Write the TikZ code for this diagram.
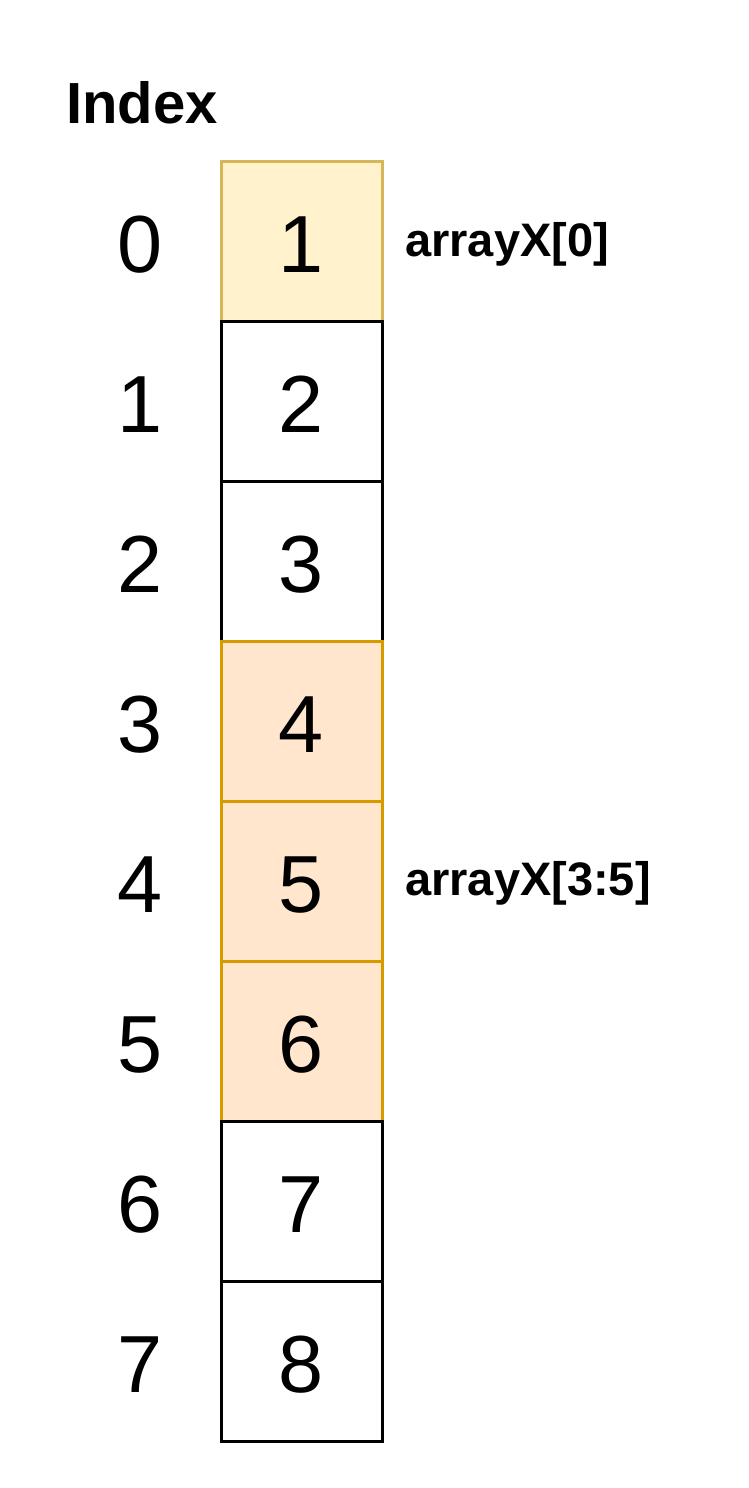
\documentclass[tikz,border=0pt]{standalone}
\usepackage{fontspec}
\setmainfont{Liberation Sans}
\usetikzlibrary{positioning}
\definecolor{yellowfill}{HTML}{FFF2CC}
\definecolor{yellowline}{HTML}{D6B656}
\definecolor{orangefill}{HTML}{FFE6CC}
\definecolor{orangeline}{HTML}{D79B00}
\tikzset{
  cell/.style={rectangle,draw,line width=3pt,outer sep=0pt,inner sep=0pt,
    minimum width=161pt,minimum height=160pt,text height=63pt,text depth=0pt,
    font=\fontsize{81}{81}\selectfont},
  firstcell/.style={cell,fill=yellowfill,draw=yellowline},
  slicecell/.style={cell,fill=orangefill,draw=orangeline},
  idx/.style={inner sep=0pt,anchor=center,text height=63pt,text depth=0pt,
    font=\fontsize{81}{81}\selectfont},
  tag/.style={inner sep=0pt,anchor=base west,font=\bfseries\fontsize{47}{47}\selectfont}
}
\begin{document}
\begin{tikzpicture}[x=1pt,y=-1pt]
  \useasboundingbox (0,0) rectangle (748,1488);
  \node[inner sep=0pt,anchor=base west,font=\bfseries\fontsize{58}{58}\selectfont] (title) at (66,123) {Index};
  % the array cells
  \node[firstcell] (c0) at (301.5,241) {1};
  \node[cell,below=0pt of c0] (c1) {2};
  \node[cell,below=0pt of c1] (c2) {3};
  \node[slicecell,below=0pt of c2] (c3) {4};
  \node[slicecell,below=0pt of c3] (c4) {5};
  \node[slicecell,below=0pt of c4] (c5) {6};
  \node[cell,below=0pt of c5] (c6) {7};
  \node[cell,below=0pt of c6] (c7) {8};
  % index numbers
  \node[idx] (i0) at (140,241) {0};
  \node[idx] (i1) at (140,401) {1};
  \node[idx] (i2) at (140,561) {2};
  \node[idx] (i3) at (140,721) {3};
  \node[idx] (i4) at (140,881) {4};
  \node[idx] (i5) at (140,1041) {5};
  \node[idx] (i6) at (140,1201) {6};
  \node[idx] (i7) at (140,1361) {7};
  % slice labels
  \node[tag] (t0) at (405,256) {arrayX[0]};
  \node[tag] (t1) at (405,895) {arrayX[3:5]};
\end{tikzpicture}
\end{document}
